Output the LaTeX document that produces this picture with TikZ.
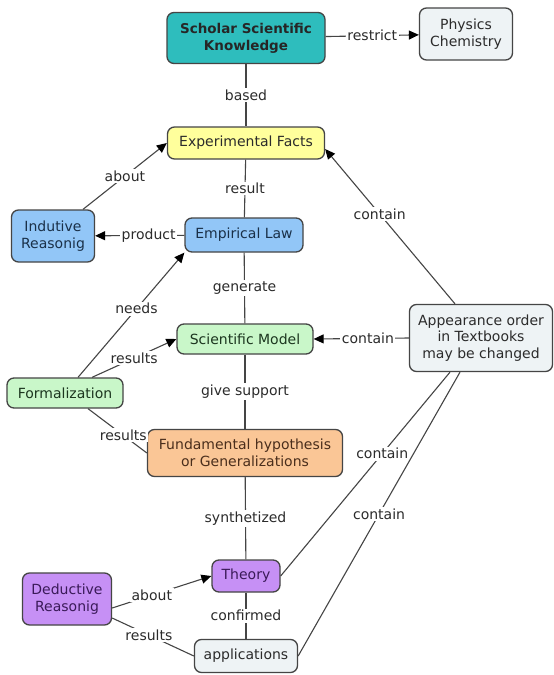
\documentclass[tikz,border=0pt]{standalone}
\usepackage{fontspec}
\setmainfont{DejaVu Sans}
\usetikzlibrary{arrows.meta,calc}
\definecolor{linec}{HTML}{454545}
\definecolor{txt}{HTML}{2B2B2B}
\definecolor{tealf}{HTML}{2EBDBD}
\definecolor{greyf}{HTML}{EEF3F5}
\definecolor{yellowf}{HTML}{FFFF9C}
\definecolor{bluef}{HTML}{92C6F7}
\definecolor{greenf}{HTML}{C9F7C9}
\definecolor{orangef}{HTML}{FAC696}
\definecolor{purplef}{HTML}{C690F5}
\definecolor{bluet}{HTML}{1A3048}
\definecolor{purplet}{HTML}{3A1A58}
\definecolor{oranget}{HTML}{4A2E1C}
\definecolor{greent}{HTML}{1C361F}
\begin{document}
\begin{tikzpicture}[x=1pt,y=-1pt,
  box/.style={draw=linec, line width=1.3pt, rounded corners=7pt, align=center,
    text=txt, font=\fontsize{14}{16.8}\selectfont, inner sep=0pt},
  lbl/.style={fill=white, inner sep=1.5pt, text=txt, font=\fontsize{14}{15}\selectfont},
  conn/.style={draw=linec, line width=1.1pt},
  arr/.style={conn, -{Triangle[length=10pt,width=9pt,color=black]}}]
\useasboundingbox[fill=white] (0,0) rectangle (554,675);

\node[box, fill=tealf, minimum width=158pt, minimum height=51pt,
  font=\bfseries\fontsize{13.5}{17}\selectfont, text=black!85] (ssk) at (246,38) {Scholar Scientific\\Knowledge};
\node[box, fill=greyf, minimum width=93pt, minimum height=52pt] (phys) at (466,34) {Physics\\Chemistry};
\node[box, fill=yellowf, minimum width=157pt, minimum height=32pt] (ef) at (246,143) {Experimental Facts};
\node[box, fill=bluef, text=bluet, minimum width=83pt, minimum height=52pt] (ind) at (53,236) {Indutive\\Reasonig};
\node[box, fill=bluef, text=bluet, minimum width=118pt, minimum height=34pt] (el) at (244,235) {Empirical Law};
\node[box, fill=greenf, text=greent, minimum width=136pt, minimum height=30pt] (sm) at (245,339) {Scientific Model};
\node[box, fill=greyf, minimum width=143pt, minimum height=67pt] (app) at (481,338) {Appearance order\\in Textbooks\\may be changed};
\node[box, fill=greenf, text=greent, minimum width=116pt, minimum height=30pt] (form) at (65,393) {Formalization};
\node[box, fill=orangef, text=oranget, minimum width=195pt, minimum height=47pt] (fund) at (245,453) {Fundamental hypothesis\\or Generalizations};
\node[box, fill=purplef, text=purplet, minimum width=68pt, minimum height=32pt] (theory) at (246,576) {Theory};
\node[box, fill=purplef, text=purplet, minimum width=89pt, minimum height=52pt] (ded) at (67,599) {Deductive\\Reasonig};
\node[box, fill=greyf, minimum width=103pt, minimum height=33pt] (apps) at (246,656) {applications};

\draw[arr] (ssk) -- node[lbl]{restrict} (phys);
\draw[conn] (ssk) -- node[lbl]{based} (ef);
\draw[arr] ([xshift=30pt]ind.north) -- node[lbl,pos=0.5]{about} (ef.west);
\draw[conn] (ef) -- node[lbl]{result} (el);
\draw[arr] (el) -- node[lbl,pos=0.4]{product} (ind);
\draw[conn] (el) -- node[lbl]{generate} (sm);
\draw[arr] ([xshift=13pt]form.north) -- node[lbl,pos=0.55]{needs} (el.south west);
\draw[arr] ([xshift=27pt]form.north) -- node[lbl,pos=0.5]{results} (sm.west);
\draw[arr] (app.west) -- node[lbl,pos=0.43]{contain} (sm.east);
\draw[arr] ([xshift=-26pt]app.north) -- node[lbl,pos=0.58]{contain} ([yshift=-6pt]ef.east);
\draw[conn] (sm) -- node[lbl]{give support} (fund);
\draw[conn] ([xshift=23pt]form.south) -- node[lbl,pos=0.6]{results} (fund.west);
\draw[conn] ([xshift=-31pt]app.south) -- node[lbl,pos=0.4]{contain} (theory.east);
\draw[conn] ([xshift=-21pt]app.south) -- node[lbl,pos=0.5]{contain} (apps.east);
\draw[conn] (fund) -- node[lbl]{synthetized} (theory);
\draw[arr] ([yshift=-9pt]ded.east) -- node[lbl,pos=0.4]{about} (theory.west);
\draw[conn] (theory) -- node[lbl]{confirmed} (apps);
\draw[conn] ([yshift=-19pt]ded.east) -- node[lbl,pos=0.45]{results} (apps.west);
\end{tikzpicture}
\end{document}
